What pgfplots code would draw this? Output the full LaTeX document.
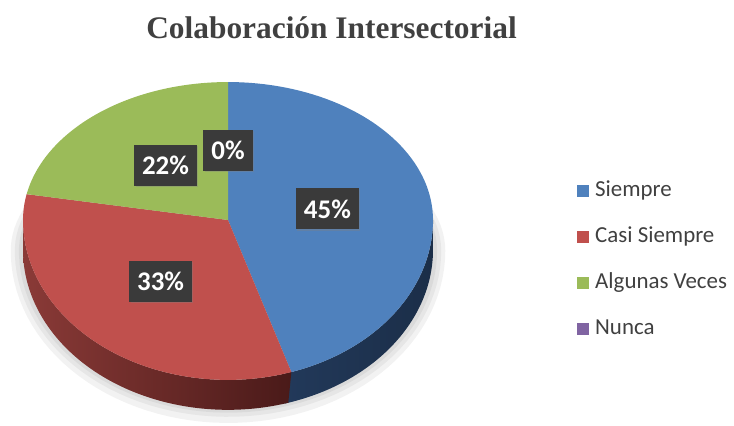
\documentclass[border=0pt]{standalone}
\usepackage{fontspec}
\setmainfont{Liberation Serif}
\newfontfamily\carlito{Carlito}
\usepackage{pgfplots}
\pgfplotsset{compat=1.18}
\usetikzlibrary{shadows}

\definecolor{cBlue}{HTML}{4F81BD}
\definecolor{cRed}{HTML}{C0504D}
\definecolor{cGreen}{HTML}{9BBB59}
\definecolor{cPurple}{HTML}{8064A2}
\definecolor{rSideL}{HTML}{8A3A37}
\definecolor{rSideR}{HTML}{4A1A19}
\definecolor{bSideL}{HTML}{22395A}
\definecolor{bSideR}{HTML}{1B2E48}
\definecolor{cText}{HTML}{404040}
\definecolor{lblGray}{HTML}{3A3A3A}

\tikzset{lbl/.style={fill=lblGray, text=white, inner xsep=8bp, inner ysep=0pt,
    minimum height=41bp, font=\carlito\bfseries\fontsize{27}{27}\selectfont,
    drop shadow={opacity=0.35, shadow xshift=1.5bp, shadow yshift=-1.5bp}}}

% porcentajes
\def\vSiempre{45}
\def\vCasi{33}
\def\vAlgunas{22}
\def\vNunca{0}
\def\depth{0.146}

\begin{document}
\begin{tikzpicture}
\pgfmathsetmacro\aA{90}
\pgfmathsetmacro\aB{\aA-3.6*\vSiempre}
\pgfmathsetmacro\aC{\aB-3.6*\vCasi}
\pgfmathsetmacro\aD{\aC-3.6*\vAlgunas}
\pgfmathsetmacro\aBb{\aB-2}
\path[use as bounding box] (0,0) rectangle (734bp,426bp);

\node[anchor=base, text=cText, font=\bfseries\fontsize{31.5}{31.5}\selectfont]
  at (331.5bp,387bp) {Colaboración Intersectorial};

\begin{axis}[
  at={(23bp,1bp)}, anchor=south west,
  scale only axis, width=410bp, height=358.75bp,
  xmin=-1, xmax=1, ymin=-1, ymax=0.75,
  hide axis, clip=false,
  declare function={
    ey(\t)=sin(\t)*(sin(\t)>0 ? 0.673 : 0.78);
    tt(\s,\a,\b)=(\s<=1) ? \a+(\b-\a)*\s : \b-(\b-\a)*(\s-1);
  },
  legend style={at={(1.3512,0.6829)}, anchor=north west, draw=none, fill=none,
    inner sep=0pt, font=\carlito\fontsize{23}{23}\selectfont, text=cText,
    row sep=25bp, nodes={inner sep=0pt, text height=16bp, text depth=5bp},
    /tikz/every odd column/.style={column sep=6bp}},
  legend cell align=left,
  legend image code/.code={\fill[#1, draw=none] (0bp,-6bp) rectangle (12bp,6bp);},
]
% sombra
\addplot[fill=black, opacity=0.05, draw=none, domain=0:360, samples=120, forget plot]
  ({1.06*cos(x)},{-0.15+sin(x)*(sin(x)>0 ? 0.6 : 0.84)}) -- cycle;
\addplot[fill=black, opacity=0.05, draw=none, domain=0:360, samples=120, forget plot]
  ({1.04*cos(x)},{-0.15+sin(x)*(sin(x)>0 ? 0.6 : 0.81)}) -- cycle;
\addplot[fill=black, opacity=0.05, draw=none, domain=0:360, samples=120, forget plot]
  ({1.02*cos(x)},{-0.15+sin(x)*(sin(x)>0 ? 0.6 : 0.79)}) -- cycle;

% lados (parte frontal visible: -180 a 0); s en [0,1] borde superior, [1,2] inferior
\addplot[left color=bSideL, right color=bSideR, draw=none, domain=0:2, samples=161, forget plot]
  ({cos(tt(x,\aBb,0))},{ey(tt(x,\aBb,0))-(x>1 ? \depth : 0)}) -- cycle;
\addplot[left color=rSideL, right color=rSideR, draw=none, domain=0:2, samples=241, forget plot]
  ({cos(tt(x,-180,\aB))},{ey(tt(x,-180,\aB))-(x>1 ? \depth : 0)}) -- cycle;

% cara superior
\addplot[fill=cBlue, draw=none, domain=\aB:\aA, samples=80, forget plot] ({cos(x)},{ey(x)}) -- (0,0) -- cycle;
\addplot[fill=cRed, draw=none, domain=\aC:\aB, samples=80, forget plot] ({cos(x)},{ey(x)}) -- (0,0) -- cycle;
\addplot[fill=cGreen, draw=none, domain=\aD:\aC, samples=60, forget plot] ({cos(x)},{ey(x)}) -- (0,0) -- cycle;

\node[lbl] at (0.485,0.054) {45\%};
\node[lbl] at (-0.329,-0.300) {33\%};
\node[lbl] at (-0.305,0.266) {22\%};
\node[lbl] at (0,0.341) {0\%};

\addlegendimage{fill=cBlue}
\addlegendentry{Siempre}
\addlegendimage{fill=cRed}
\addlegendentry{Casi Siempre}
\addlegendimage{fill=cGreen}
\addlegendentry{Algunas Veces}
\addlegendimage{fill=cPurple}
\addlegendentry{Nunca}
\end{axis}
\end{tikzpicture}
\end{document}
